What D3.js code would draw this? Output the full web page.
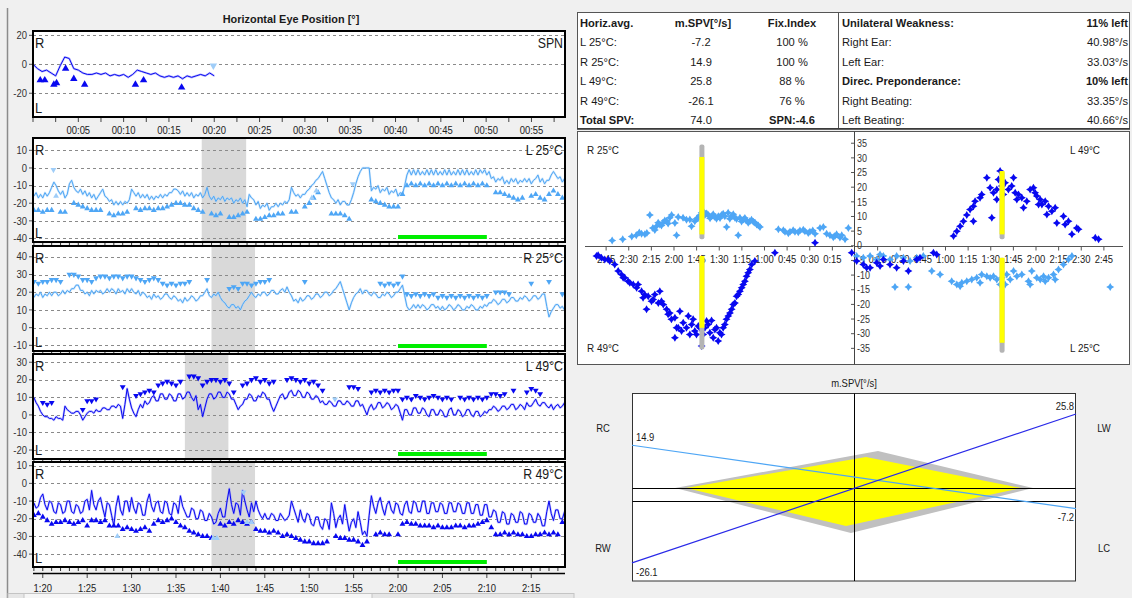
<!DOCTYPE html>
<html>
<head>
<meta charset="utf-8">
<script src="https://cdn.jsdelivr.net/npm/d3@7"></script>
<style>
  body { margin: 0; background: #f0f0f0; }
  svg { display: block; font-family: "Liberation Sans", Arial, sans-serif; }
</style>
</head>
<body>
<svg id="chart" width="1132" height="598"></svg>
<script>
// ---------------- Recorded data ----------------
// Spontaneous nystagmus (SPN) recording, 0.5 s samples from 0 s
const spnStart = 0, spnStep = 0.5;
const spnTrace = [0,-3,-5,-4,-6,-8,-1,5,4,-3,
  -4,-6,-7,-7,-6,-7,-6,-8,-7,-8,
  -7,-9,-7,-4,-5,-6,-7,-6,-8,-9,
  -8,-9,-8,-10,-8,-9,-8,-7,-8,-6,
  -8];
const spnBeats = [[0.8,-11],[1.3,-11],[2.3,-14],[2.6,-13],[3.6,-3],[4.5,-10],[5.7,-14],[11.3,-14],[12.2,-11],[16.4,-16]];
const spnFaint = [[19.9,-1,'down']];

// Caloric irrigations: eye position, 0.25 s samples from 1:19
const stimStart = 79, stimStep = 0.25;
const l25Trace = [
  -16,-14,-17,-15,-17,-14,-16,-14,-11,-8,
  -10,-13,-15,-13,-17,-15,-9,-7,-11,-13,
  -14,-12,-15,-13,-16,-14,-17,-15,-18,-16,
  -14,-12,-16,-17,-19,-18,-21,-19,-21,-19,
  -21,-19,-20,-18,-12,-14,-16,-14,-17,-15,
  -17,-15,-18,-16,-18,-16,-17,-15,-17,-15,
  -16,-14,-14,-12,-12,-13,-15,-13,-16,-14,
  -16,-14,-17,-15,-16,-14,-17,-15,-11,-16,
  -18,-16,-19,-17,-18,-16,-19,-17,-18,-17,
  -20,-18,-19,-17,-20,-18,-22,-15,-17,-18,
  -21,-19,-23,-21,-22,-20,-24,-22,-22,-20,
  -22,-20,-21,-19,-20,-18,-11,-14,-16,-15,
  -17,-15,-15,-13,-12,-10,-9,-7,-6,-4,
  -2,-6,-10,-14,-17,-18,-20,-18,-21,-19,
  -19,-21,-21,-18,-14,-9,-5,-2,0,0,
  0,0,-13,-11,-12,-10,-14,-12,-13,-11,
  -15,-13,-14,-12,-16,-14,-15,-10,-4,-1,
  -4,-1,-4,-1,-4,-2,-4,-1,-4,-1,
  -4,-1,-4,-2,-4,-1,-4,-1,-4,-2,
  -4,-1,-4,-1,-4,-1,-4,-2,-4,-1,
  -4,-1,-3,-1,-4,-2,-6,-5,-8,-6,
  -7,-5,-9,-7,-9,-6,-8,-6,-9,-7,
  -8,-6,-8,-6,-9,-7,-6,-4,-8,-6,
  -9,-7,-7,-4,-2,-4,-6,-5,-8,-6,
  -10];
const r25Trace = [
  17,19,18,20,17,19,18,20,18,20,
  20,18,19,21,19,21,20,22,22,24,
  24,21,21,19,20,18,21,19,21,20,
  21,19,20,22,20,22,21,19,22,20,
  21,19,22,20,22,20,19,21,18,20,
  19,17,18,16,19,17,18,16,17,19,
  19,17,16,18,17,15,16,14,17,15,
  16,18,17,15,16,18,18,20,22,18,
  17,19,18,20,17,15,14,12,11,13,
  13,11,12,10,13,15,16,18,20,18,
  17,19,18,20,20,18,19,21,21,19,
  19,21,22,20,23,20,18,15,16,14,
  17,15,16,18,18,16,17,19,19,17,
  18,20,20,18,19,21,22,24,26,22,
  18,14,10,14,17,19,20,22,19,21,
  21,19,18,20,19,17,17,19,18,20,
  19,17,18,20,20,22,24,18,12,10,
  11,13,11,13,11,13,12,10,11,13,
  13,11,12,10,12,10,11,13,12,10,
  11,13,12,10,10,12,11,13,12,10,
  10,12,11,13,12,14,14,16,15,13,
  14,16,16,14,15,17,17,15,15,17,
  16,18,17,15,16,18,18,16,17,19,
  19,12,6,9,11,13,13,11,12,10,
  11];
const l49Trace = [
  10,7,5,2,0,-1,-1,-2,-2,-3,
  -1,-2,-2,-3,5,3,2,1,1,2,
  2,0,-3,-1,1,2,2,1,3,2,
  2,4,4,3,3,5,5,4,6,5,
  -2,6,15,9,4,1,-1,3,6,4,
  8,6,7,10,11,8,8,12,12,9,
  9,12,11,8,8,12,12,9,10,13,
  13,10,8,11,3,6,-1,4,9,12,
  12,9,10,13,13,10,10,13,12,9,
  9,6,3,5,6,9,9,12,11,8,
  8,11,10,13,12,9,9,5,2,5,
  8,11,12,9,10,13,14,11,11,14,
  13,10,10,13,12,9,9,11,10,7,
  8,6,6,8,7,5,5,8,8,6,
  6,8,7,5,5,8,8,5,6,3,
  0,4,6,3,4,7,7,4,5,7,
  6,3,4,6,5,1,-3,3,3,0,
  0,4,4,1,1,4,3,0,-1,3,
  3,0,0,3,2,-1,-1,3,4,0,
  0,3,2,-1,0,3,3,0,-1,2,
  2,-1,0,2,1,3,3,5,4,2,
  3,5,5,3,4,6,6,3,4,6,
  5,3,7,5,5,7,9,6,5,7,
  7,5,4,6,3,5,6,4,5,7,
  6];
const r49Trace = [
  -11,-14,-13,-8,-6,-12,-15,-10,-11,-16,
  -17,-11,-12,-17,-16,-10,-10,-16,-17,-12,
  -13,-17,-16,-10,-9,-15,-4,-12,-15,-10,
  -8,-14,-19,-11,-12,-18,-24,-13,-7,-15,
  -18,-10,-10,-16,-8,-14,-17,-11,-12,-18,
  -18,-10,-6,-13,-16,-11,-10,-16,-17,-10,
  -11,-17,-18,-11,-12,-17,-7,-13,-16,-19,
  -19,-14,-15,-20,-20,-15,-16,-21,-21,-17,
  -19,-23,-22,-17,-14,-19,-19,-10,-3,-12,
  -17,-11,-12,-18,-4,-10,-15,-19,-11,-16,
  -10,-15,-18,-20,-17,-20,-20,-17,-18,-21,
  -21,-17,-19,-21,-20,-18,-10,-14,-18,-22,
  -15,-20,-22,-17,-18,-23,-24,-19,-19,-24,
  -26,-20,-21,-26,-11,-17,-25,-20,-18,-23,
  -12,-20,-27,-22,-20,-25,-16,-22,-29,-27,
  -30,-18,-7,-13,-17,-11,-8,-14,-18,-12,
  -10,-15,-17,-11,-12,-17,-18,-12,-10,-16,
  -17,-10,-11,-16,-16,-10,-10,-17,-17,-11,
  -11,-16,-16,-11,-12,-17,-17,-11,-11,-16,
  -16,-11,-12,-17,-17,-11,-11,-17,-17,-12,
  -12,-18,-18,-12,-12,-19,-19,-15,-16,-22,
  -22,-16,-17,-23,-23,-17,-18,-22,-22,-16,
  -17,-23,-23,-17,-18,-22,-22,-17,-19,-24,
  -24,-16,-10,-17,-21,-15,-15,-20,-20,-16,
  -17];

// Detected fast-phase beats, 0.5 s bins from 1:19 (null = none)
const beatStart = 79, beatStep = 0.5;
const l25Beats = [-24,-24,-25,-24,-24,null,-25,-25,null,-20,
  -21,-22,-23,-24,-24,-24,null,-26,-27,-26,
  -26,-25,null,-23,-24,-23,-23,-24,-23,-23,
  -22,-21,-20,-20,-21,-21,-23,-24,-25,null,
  -26,-27,-26,null,-28,-28,-27,-26,-25,null,
  -29,-29,-28,-27,-27,-26,-26,null,-25,-25,
  null,-22,-20,-17,-14,null,null,-26,-26,-26,
  -27,-29,null,null,null,null,-18,-19,-20,-21,
  -22,-22,-22,-15,-10,-9,-10,-9,-10,-9,
  -10,-9,-10,-9,-10,-9,-10,-9,-10,-9,
  -10,-9,-10,null,-14,-14,-15,-16,-17,-18,
  -17,null,-16,-15,-17,-18,-15,-13,-15,-17,
  -18];
const l25Faint = [[81.2,-1,'down'],[81.5,-16,'up'],[110.3,-17,'up'],[110.8,-13,'up'],[114.9,-9,'down']];
const r25Beats = [26,25,26,26,27,27,26,null,30,30,
  29,27,27,26,28,29,29,28,29,29,
  28,29,29,28,27,26,27,28,27,25,
  24,25,24,25,25,26,null,null,null,27,
  null,null,null,null,22,23,22,25,25,24,
  25,26,26,27,null,null,null,null,null,null,
  null,26,null,null,null,null,null,null,null,null,
  null,null,null,null,null,null,null,null,25,24,
  25,24,25,29,19,18,19,18,19,18,
  19,17,18,17,18,17,18,17,18,17,
  18,17,18,null,20,20,20,19,null,null,
  null,null,25,null,null,null,26,null,null,19,
  null];
const r25Faint = [];
const l49Beats = [null,null,7,6,7,null,null,null,null,null,
  null,3,8,8,9,null,null,null,null,null,
  16,null,null,11,12,13,14,13,17,18,
  19,18,17,19,null,22,22,21,17,19,
  20,20,19,20,18,13,null,17,18,20,
  21,19,20,18,19,null,null,20,21,20,
  19,20,18,19,17,14,null,null,null,null,
  null,16,16,15,null,null,13,14,13,14,
  13,14,14,9,10,9,11,10,9,10,
  11,10,9,10,9,null,10,9,10,9,
  10,9,10,12,12,11,12,null,14,null,
  null,13,15,14,12,null,null,null,null,null,
  null];
const l49Faint = [[112.9,9,'down']];
const r49Beats = [-18,-17,-19,-21,-23,-22,-22,-21,-22,-23,
  -22,-21,-24,-21,-21,-22,-21,-24,-24,-24,
  -26,-25,-26,-27,-26,-25,-27,-23,-21,-22,
  -21,-20,-22,-24,-25,-27,-28,-29,-30,-30,
  -31,null,-23,-24,-22,-23,-21,-22,-23,-22,
  -26,-27,-27,-28,-27,-28,-30,-29,-30,-31,
  -32,-33,-33,-34,-34,-34,-33,null,-30,-31,
  -31,-32,-32,-33,-35,-33,null,-29,-28,-29,
  -29,null,-29,-23,-22,-23,-23,-24,-24,-24,
  -25,-24,-25,-25,-25,-24,-24,-25,-24,-24,
  -23,-22,-21,-25,-29,-29,-28,-29,-28,-29,
  -29,-30,-30,-29,-29,-28,-29,-28,-29,-22,
  -27];
const r49Faint = [[88.4,-30,'up'],[99.2,-31,'up'],[99.6,-31,'up'],[103,-22,'up'],[103.5,-22,'up'],[102.6,-5,'down']];

// Fixation-suppression windows (gray) and evaluation window (green), seconds
const l25Band = [97.9, 102.9];
const r25Band = [99.0, 103.9];
const l49Band = [96.0, 100.9];
const r49Band = [99.0, 103.9];
const evalWindow = [120, 130];

// Summary table
const tableHeader = ['Horiz.avg.', 'm.SPV[°/s]', 'Fix.Index'];
const irrigations = ['L 25°C:', 'R 25°C:', 'L 49°C:', 'R 49°C:'];
const meanSpv = [-7.2, 14.9, 25.8, -26.1];
const fixIndex = [100, 100, 88, 76];
const totalSpv = 74.0;
const spnValue = -4.6;
const ratioLabels = ['Unilateral Weakness:', 'Right Ear:', 'Left Ear:', 'Direc. Preponderance:', 'Right Beating:', 'Left Beating:'];
const ratioValues = ['11% left', '40.98°/s', '33.03°/s', '10% left', '33.35°/s', '40.66°/s'];

// Butterfly plot: slow-phase velocity [t (s), v (°/s)]
const r25Spv = [[161,1.8],[154,2.2],[148,3.2],[145,3.6],[143,4.5],[141.5,4.1],[139.3,3.9],[138,4.4],[136,10.5],[134,6.1],[132.7,5.4],[131.6,6.7],[130.5,7.9],[129.4,7.3],[128.3,6.9],[127.4,7.8],[126.1,8.6],[124.9,8.4],[123.9,7.6],[122.8,9.6],[121.6,10.5],[119.4,7.8],[118.3,3.6],[117.2,9.8],[114,9.6],[111.7,8.9],[109.5,9.0],[108.4,6.7],[106.2,8.4],[105,9.2],[103.9,9.6],[102.8,10.4],[101.7,11.3],[100.6,11.8],[99.5,10.5],[98.3,11],[97.2,10.5],[96.1,9.4],[95.1,10.1],[94,10.8],[92.9,9.8],[91.8,9.2],[90.6,10.1],[89.5,9.5],[88.5,10.5],[87.4,10.9],[86.3,10.1],[85.1,6.4],[84.1,11.3],[83,9.2],[81.8,10.1],[80.7,10.8],[79.6,9.6],[78.5,9.1],[77.4,3.6],[76.3,9.6],[75.2,8.3],[74.0,9.0],[73,9.5],[71.9,8.6],[70.8,7.9],[69.7,8.4],[68.6,8.9],[67.4,8.2],[66.3,7.9],[65.2,7.3],[64.1,6.9],[63.0,6.4],[50.8,5.6],[47.5,5.3],[46.4,4.8],[44.2,4.3],[43.1,4.8],[41,5.3],[39.8,4.8],[37.6,4.6],[36.5,5.2],[34.3,5.5],[33.2,5.0],[31,4.4],[29.9,4.8],[28,5.2],[26.5,4.1],[23.2,6.1],[21.0,6.4],[18.8,4.1],[16.6,3.6],[14.4,2.9],[13.3,3.3],[12.2,3.9],[10,2.8],[8.8,3.6],[6.6,2.2],[4.4,6.1]];
const r49Spv = [[171.4,-3.5],[170.3,-3.2],[168.1,-4.1],[165.9,-4.7],[163.7,-4.7],[162.6,-5.2],[159.3,-6.4],[157.0,-8.6],[154.8,-9.8],[153.7,-10.9],[152.6,-10.9],[150.4,-12.1],[149.3,-12.6],[147.0,-13.2],[144.8,-14.3],[143.8,-13.2],[141.5,-15.5],[140.5,-17.7],[139.4,-16.6],[138.2,-21.7],[137.1,-17.2],[134.9,-18.9],[133.8,-18.3],[132.7,-16.6],[130.4,-19.5],[129.4,-15.5],[128.3,-18.9],[127.1,-20.0],[124.9,-21.7],[123.9,-23.4],[122.8,-22.9],[121.7,-25.1],[119.4,-24.6],[119.4,-31.4],[118.3,-28.0],[117.2,-28.0],[116.1,-22.3],[115.0,-29.1],[113.9,-26.3],[111.7,-28.0],[110.5,-24.0],[109.5,-30.3],[108.3,-26.9],[107.3,-25.1],[106.2,-29.1],[105.1,-30.3],[103.9,-27.4],[102.9,-28.0],[101.7,-34.2],[100.6,-30.3],[99.5,-28.0],[98.4,-25.7],[97.3,-26.9],[96.2,-29.7],[95.1,-25.5],[94.0,-31.4],[92.9,-28.6],[91.8,-28.0],[90.7,-32.5],[89.6,-29.7],[88.5,-30.3],[87.4,-28.0],[86.3,-26.9],[85.2,-25.1],[84.0,-24.0],[82.9,-22.9],[81.8,-21.7],[80.7,-20.0],[79.6,-19.5],[78.5,-17.2],[77.4,-16.6],[76.3,-15.5],[75.1,-14.3],[74.1,-13.2],[73.0,-12.1],[71.9,-10.4],[70.8,-9.2],[69.7,-8.1],[68.5,-6.4],[66.4,-5.2],[53.1,-2.4],[26.5,1.0],[2.2,-2.4]];
const l49Spv = [[1.1,-5.2],[5.5,-6.4],[7.7,-7.5],[10.0,-7.5],[14.4,-5.8],[16.6,-6.9],[18.8,-4.7],[23.2,-6.4],[27.6,-7.5],[32.1,-5.2],[35.4,-8.6],[40.9,-4.7],[43.1,-4.1],[52.0,-2.4],[54.2,-3.0],[65.3,3.3],[67.5,5.0],[69.7,6.7],[71.9,8.4],[74.1,10.5],[76.3,12.4],[78.5,13.5],[78.5,8.4],[79.6,15.2],[82.9,16.4],[84.0,17.5],[87.4,23.2],[89.6,19.8],[90.7,9.6],[91.8,18.1],[94.0,19.2],[94.0,15.8],[95.1,22.6],[96.2,25.5],[97.3,20.4],[98.4,17.5],[99.5,21.5],[101.7,19.2],[103.9,20.4],[105.1,23.2],[106.2,18.1],[107.3,15.8],[108.4,17.5],[110.6,16.4],[111.7,13.0],[113.9,15.2],[116.1,19.2],[118.3,19.8],[119.4,18.1],[120.5,17.0],[121.7,14.1],[122.8,15.8],[123.9,14.1],[126.1,15.2],[127.2,10.7],[128.3,13.5],[130.5,11.8],[132.7,13.0],[133.8,7.8],[138.2,10.1],[139.3,7.3],[141.5,8.4],[143.8,3.9],[147.0,6.1],[148.2,5.6],[159.3,2.7],[161.5,2.2]];
const l25Spv = [[1.1,-3.5],[5.5,-4.1],[10.0,-3.5],[14.4,-4.7],[16.6,-3.0],[18.8,-3.5],[23.2,-4.7],[26.5,-14.1],[27.6,-3.5],[32.1,-4.1],[35.4,-14.1],[36.5,-5.2],[40.9,-4.1],[45.3,-3.5],[50.9,-8.6],[56.4,-9.8],[64.1,-12.1],[67.5,-13.2],[69.7,-13.8],[70.8,-12.6],[74.1,-12.1],[77.4,-11.5],[80.7,-10.9],[82.9,-12.6],[84.0,-9.8],[87.4,-10.4],[89.6,-10.9],[91.8,-10.4],[94.0,-11.5],[96.2,-13.2],[97.3,-10.9],[99.5,-13.2],[100.6,-9.8],[102.9,-11.5],[105.1,-8.6],[107.3,-10.4],[110.6,-9.8],[115.0,-12.1],[116.1,-13.2],[117.2,-8.6],[120.5,-10.9],[122.8,-11.5],[125.0,-10.4],[126.1,-12.1],[128.3,-10.9],[131.6,-9.8],[132.7,-11.5],[134.9,-8.1],[138.2,-6.4],[141.5,-4.7],[143.8,-3.5],[169.2,-14.1]];

// Culmination markers: full extent (gray) and plateau (yellow), °/s
const rightEarPeakTime = 101.5;
const rightEarBars = [{gray: [2.2, 34.6], yellow: [3.9, 30.3]}, {gray: [-35.4, -3.5], yellow: [-28, -3.5]}];
const leftEarPeakTime = 97.5;
const leftEarBars = [{gray: [2.2, 25.5], yellow: [3.9, 25.5]}, {gray: [-36.5, -4.1], yellow: [-33.1, -4.1]}];

// Normal-range diamond for the m.SPV plot (x: -1 left .. 1 right, y: °/s)
const diamondShadow = [[-0.806,0],[0.108,12.9],[0.806,0],[-0.014,-15.7]];
const diamondNormal = [[-0.757,0],[0.054,10.8],[0.752,0],[-0.036,-13.2]];

// ---------------- Drawing ----------------
const svg = d3.select('#chart');
const LIGHT = '#4ea6f5', DARK = '#0808f0', FAINT = '#9fcdf8';
const SX = 0.9;

function label(parent, x, y, s, o = {}) {
  return parent.append('text')
    .attr('transform', `translate(${x},${y}) scale(${o.sx ?? SX},1)`)
    .attr('text-anchor', o.anchor || 'start')
    .attr('dominant-baseline', 'central')
    .style('font-size', (o.size || 10.5) + 'px')
    .style('font-weight', o.bold ? 'bold' : 'normal')
    .attr('fill', o.color || '#1a1a1a')
    .text(s);
}
const mss = t => `${Math.floor(t / 60)}:${String(Math.round(t % 60)).padStart(2, '0')}`;

// window frame on the left
svg.append('line').attr('x1', 7.5).attr('x2', 7.5).attr('y1', 8).attr('y2', 598)
  .attr('stroke', '#8c8c8c').attr('stroke-width', 1.5);
label(svg, 291, 19, 'Horizontal Eye Position [°]', {anchor: 'middle', bold: true, size: 11.5, sx: 0.95});

const triSym = d3.symbol().type(d3.symbolTriangle);
let clipId = 0;

function drawPanel(p) {
  const xs = p.x;
  const [x0, x1] = xs.range();
  const y = d3.scaleLinear().domain(p.domain).range([p.bottom, p.top]);
  const g = svg.append('g');
  const cid = 'clip' + (clipId++);
  g.append('clipPath').attr('id', cid).append('rect')
    .attr('x', x0).attr('y', p.top).attr('width', x1 - x0).attr('height', p.bottom - p.top);
  g.append('rect').attr('x', x0).attr('y', p.top).attr('width', x1 - x0).attr('height', p.bottom - p.top).attr('fill', '#fff');
  const inner = g.append('g').attr('clip-path', `url(#${cid})`);
  if (p.band) {
    inner.append('rect').attr('x', xs(p.band[0])).attr('y', p.top)
      .attr('width', xs(p.band[1]) - xs(p.band[0])).attr('height', p.bottom - p.top).attr('fill', '#d9d9d9');
  }
  p.ticks.forEach(v => {
    inner.append('line').attr('x1', x0).attr('x2', x1).attr('y1', Math.round(y(v)) + 0.5).attr('y2', Math.round(y(v)) + 0.5)
      .attr('stroke', '#8a8a8a').attr('stroke-dasharray', '3,3');
    g.append('line').attr('x1', x0 - 4).attr('x2', x0).attr('y1', y(v)).attr('y2', y(v)).attr('stroke', '#555');
    label(g, 27, y(v), String(v), {anchor: 'end', size: 10.5, color: '#333'});
  });
  if (p.evalWin) {
    inner.append('line').attr('x1', xs(p.evalWin[0])).attr('x2', xs(p.evalWin[1]))
      .attr('y1', p.bottom - 5).attr('y2', p.bottom - 5).attr('stroke', '#00ee00').attr('stroke-width', 4);
  }
  const pts = p.trace.map((v, i) => [p.start + i * p.step, v]);
  const path = d3.line().x(d => xs(d[0])).y(d => y(d[1]))(pts);
  inner.append('path').attr('d', path).attr('fill', 'none').attr('stroke', p.halo)
    .attr('stroke-width', 2.2).attr('stroke-linejoin', 'round').attr('opacity', 0.55);
  inner.append('path').attr('d', path).attr('fill', 'none').attr('stroke', p.color).attr('stroke-width', 1);
  const beatPts = p.beatPairs || p.beats.map((v, i) => [beatStart + i * beatStep, v]).filter(d => d[1] !== null);
  const sym = triSym.size(p.markSize || 15);
  inner.selectAll(null).data(beatPts).join('path')
    .attr('d', sym())
    .attr('transform', d => `translate(${xs(d[0])},${y(d[1])})${p.dir === 'down' ? ' rotate(180)' : ''}`)
    .attr('fill', p.color);
  inner.selectAll(null).data(p.faint || []).join('path')
    .attr('d', sym())
    .attr('transform', d => `translate(${xs(d[0])},${y(d[1])})${d[2] === 'down' ? ' rotate(180)' : ''}`)
    .attr('fill', FAINT);
  // border
  g.append('rect').attr('x', x0).attr('y', p.top).attr('width', x1 - x0).attr('height', p.bottom - p.top)
    .attr('fill', 'none').attr('stroke', '#000').attr('stroke-width', 2);
  // ruler ticks on lower edge
  if (p.ruler) {
    d3.range(79, 139, 1).forEach(t => {
      g.append('line').attr('x1', xs(t)).attr('x2', xs(t)).attr('y1', p.bottom + 1).attr('y2', p.bottom + 4)
        .attr('stroke', '#333');
    });
  }
  label(g, x0 + 2, p.top + 12, 'R', {size: 14, sx: 0.92});
  label(g, x0 + 2, p.bottom - 9, 'L', {size: 14, sx: 0.92});
  label(g, x1 - 2, p.top + 12, p.name, {anchor: 'end', size: 14, sx: 0.88});
  return y;
}

// Spontaneous nystagmus panel
const xSpn = d3.scaleLinear().domain([0, 58.7]).range([33, 565]);
drawPanel({name: 'SPN', x: xSpn, trace: spnTrace, start: spnStart, step: spnStep, beatPairs: spnBeats,
  faint: spnFaint, dir: 'up', color: DARK, halo: '#8a8aff', top: 31, bottom: 117, domain: [-36.4, 23], ticks: [20, 0, -20], markSize: 24});
d3.range(0, 58.7, 2.5).forEach(t => {
  svg.append('line').attr('x1', xSpn(t)).attr('x2', xSpn(t)).attr('y1', 118).attr('y2', 122).attr('stroke', '#444');
  if (t % 5 === 0 && t > 0) label(svg, xSpn(t), 130, `00:${String(t).padStart(2, '0')}`, {anchor: 'middle', color: '#222'});
});

// Caloric panels on a shared time axis
const xStim = d3.scaleLinear().domain([78.9, 138.8]).range([33, 565]);
const stimPanels = [
  {name: 'L 25°C', trace: l25Trace, beats: l25Beats, faint: l25Faint, dir: 'up', color: LIGHT, halo: '#a9d3fa', band: l25Band,
   top: 138, bottom: 242, domain: [-42, 17], ticks: [10, 0, -10, -20, -30, -40]},
  {name: 'R 25°C', trace: r25Trace, beats: r25Beats, faint: r25Faint, dir: 'down', color: LIGHT, halo: '#a9d3fa', band: r25Band,
   top: 246, bottom: 351, domain: [-13.2, 46.1], ticks: [40, 30, 20, 10, 0, -10]},
  {name: 'L 49°C', trace: l49Trace, beats: l49Beats, faint: l49Faint, dir: 'down', color: DARK, halo: '#8a8aff', band: l49Band,
   top: 354, bottom: 459, domain: [-25.1, 34.7], ticks: [30, 20, 10, 0, -10, -20]},
  {name: 'R 49°C', trace: r49Trace, beats: r49Beats, faint: r49Faint, dir: 'up', color: DARK, halo: '#8a8aff', band: r49Band,
   top: 462, bottom: 567, domain: [-47.3, 12.1], ticks: [10, 0, -10, -20, -30, -40]}
];
stimPanels.forEach(p => drawPanel(Object.assign({x: xStim, start: stimStart, step: stimStep, evalWin: evalWindow, ruler: true}, p)));

// bottom time axis
svg.append('line').attr('x1', 33).attr('x2', 565).attr('y1', 573.5).attr('y2', 573.5).attr('stroke', '#000').attr('stroke-width', 1.5);
d3.range(80, 138, 5).forEach(t => {
  svg.append('line').attr('x1', xStim(t)).attr('x2', xStim(t)).attr('y1', 574).attr('y2', 578).attr('stroke', '#444');
  label(svg, xStim(t), 588, mss(t), {anchor: 'middle', color: '#222'});
});
// scroll strip
svg.append('rect').attr('x', 8).attr('y', 593.5).attr('width', 566).attr('height', 6).attr('fill', '#e6e6e6').attr('stroke', '#c4c4c4');
svg.append('rect').attr('x', 24).attr('y', 593.5).attr('width', 348).attr('height', 6).attr('fill', '#f6f6f6').attr('stroke', '#c4c4c4');

// ---------------- Summary table ----------------
const tbl = svg.append('g');
const TF = {size: 11.5, sx: 0.97};
tbl.append('rect').attr('x', 577.5).attr('y', 12.5).attr('width', 552).attr('height', 116).attr('fill', '#fff').attr('stroke', '#555');
tbl.append('line').attr('x1', 838.5).attr('x2', 838.5).attr('y1', 12.5).attr('y2', 128.5).attr('stroke', '#555');
tbl.append('line').attr('x1', 577).attr('x2', 1130).attr('y1', 129).attr('y2', 129).attr('stroke', '#333').attr('stroke-width', 1.5);
const rowY = i => 23 + i * 19.4;
label(tbl, 580, rowY(0), tableHeader[0], {...TF, bold: true});
label(tbl, 703, rowY(0), tableHeader[1], {...TF, bold: true, anchor: 'middle'});
label(tbl, 792, rowY(0), tableHeader[2], {...TF, bold: true, anchor: 'middle'});
irrigations.forEach((r, i) => {
  label(tbl, 580, rowY(i + 1), r, TF);
  label(tbl, 701, rowY(i + 1), meanSpv[i].toFixed(1), {...TF, anchor: 'middle'});
  label(tbl, 792, rowY(i + 1), `${fixIndex[i]} %`, {...TF, anchor: 'middle'});
});
label(tbl, 580, rowY(5), 'Total SPV:', {...TF, bold: true});
label(tbl, 701, rowY(5), totalSpv.toFixed(1), {...TF, anchor: 'middle'});
label(tbl, 792, rowY(5), `SPN:${spnValue}`, {...TF, anchor: 'middle', bold: true});
ratioLabels.forEach((r, i) => {
  const b = i === 0 || i === 3;
  label(tbl, 842, rowY(i), r, {...TF, bold: b});
  label(tbl, 1128, rowY(i), ratioValues[i], {...TF, bold: b, anchor: 'end'});
});

// ---------------- Butterfly plot ----------------
const bf = svg.append('g');
bf.append('rect').attr('x', 577.5).attr('y', 131.5).attr('width', 552).attr('height', 233).attr('fill', '#fff').attr('stroke', '#555');
const bfL = d3.scaleLinear().domain([0, 179]).range([855, 585]);
const bfR = d3.scaleLinear().domain([0, 179]).range([855, 1125]);
const bfY = d3.scaleLinear().domain([-40, 39]).range([363, 131.5]);
const y0 = Math.round(bfY(0)) + 0.5;
bf.append('line').attr('x1', 854.5).attr('x2', 854.5).attr('y1', 131.5).attr('y2', 364.5).attr('stroke', '#444');
bf.append('line').attr('x1', 585).attr('x2', 853).attr('y1', y0).attr('y2', y0).attr('stroke', '#555');
bf.append('line').attr('x1', 855).attr('x2', 1123).attr('y1', y0).attr('y2', y0).attr('stroke', '#555');
d3.range(15, 170, 15).forEach(t => {
  bf.append('line').attr('x1', bfL(t)).attr('x2', bfL(t)).attr('y1', y0).attr('y2', y0 + 4).attr('stroke', '#555');
  bf.append('line').attr('x1', bfR(t)).attr('x2', bfR(t)).attr('y1', y0).attr('y2', y0 + 4).attr('stroke', '#555');
  label(bf, bfL(t), 259, mss(t), {anchor: 'middle', size: 10.5, color: '#222'});
  label(bf, bfR(t), 259, mss(t), {anchor: 'middle', size: 10.5, color: '#222'});
});
d3.range(-35, 36, 5).forEach(v => {
  bf.append('line').attr('x1', 851).attr('x2', 854).attr('y1', bfY(v)).attr('y2', bfY(v)).attr('stroke', '#555');
  label(bf, 857, bfY(v), String(v), {size: 10, color: '#333'});
});
label(bf, 587, 150, 'R 25°C', {size: 11});
label(bf, 587, 348, 'R 49°C', {size: 11});
label(bf, 1100, 150, 'L 49°C', {size: 11, anchor: 'end'});
label(bf, 1100, 348, 'L 25°C', {size: 11, anchor: 'end'});
const star = 'M0,-4L1.5,-1.5L4,0L1.5,1.5L0,4L-1.5,1.5L-4,0L-1.5,-1.5Z';
function scatter(data, xs, color) {
  bf.selectAll(null).data(data).join('path').attr('d', star)
    .attr('transform', d => `translate(${xs(d[0])},${bfY(d[1])})`).attr('fill', color);
}
scatter(r25Spv, bfL, LIGHT);
scatter(r49Spv, bfL, DARK);
scatter(l25Spv, bfR, LIGHT);
scatter(l49Spv, bfR, DARK);
function peakBars(t, xs, bars) {
  bars.forEach(b => {
    bf.append('rect').attr('x', xs(t) - 2.5).attr('width', 5)
      .attr('y', bfY(b.gray[1])).attr('height', bfY(b.gray[0]) - bfY(b.gray[1])).attr('rx', 2).attr('fill', '#b4b4b4');
    bf.append('rect').attr('x', xs(t) - 2.5).attr('width', 5)
      .attr('y', bfY(b.yellow[1])).attr('height', bfY(b.yellow[0]) - bfY(b.yellow[1])).attr('fill', '#ffff00');
  });
}
peakBars(rightEarPeakTime, bfL, rightEarBars);
peakBars(leftEarPeakTime, bfR, leftEarBars);

// ---------------- m.SPV diagram ----------------
const dm = svg.append('g');
const dmX = d3.scaleLinear().domain([-1, 1]).range([632, 1076]);
const dmY = d3.scaleLinear().domain([-32.4, 33.1]).range([581, 393]);
label(dm, 854, 383, 'm.SPV[°/s]', {anchor: 'middle'});
dm.append('rect').attr('x', 632.5).attr('y', 393.5).attr('width', 443).attr('height', 187.5).attr('fill', '#fff').attr('stroke', '#333');
const poly = d3.line().x(d => dmX(d[0])).y(d => dmY(d[1])).curve(d3.curveLinearClosed);
dm.append('path').attr('d', poly(diamondShadow)).attr('fill', '#c0c0c0');
dm.append('path').attr('d', poly(diamondNormal)).attr('fill', '#ffff00');
dm.append('line').attr('x1', 854.5).attr('x2', 854.5).attr('y1', 393.5).attr('y2', 581).attr('stroke', '#000');
[0, spnValue].forEach(v => {
  dm.append('line').attr('x1', 632.5).attr('x2', 1075.5).attr('y1', Math.round(dmY(v)) + 0.5).attr('y2', Math.round(dmY(v)) + 0.5)
    .attr('stroke', '#000');
});
// RC -> LC (25°C) and RW -> LW (49°C)
dm.append('line').attr('x1', dmX(-1)).attr('y1', dmY(meanSpv[1])).attr('x2', dmX(1)).attr('y2', dmY(meanSpv[0]))
  .attr('stroke', LIGHT).attr('stroke-width', 1.2);
dm.append('line').attr('x1', dmX(-1)).attr('y1', dmY(meanSpv[3])).attr('x2', dmX(1)).attr('y2', dmY(meanSpv[2]))
  .attr('stroke', '#2a2ae8').attr('stroke-width', 1.2);
label(dm, 636, dmY(meanSpv[1]) - 8, meanSpv[1].toFixed(1));
label(dm, 636, dmY(meanSpv[3]) + 9, meanSpv[3].toFixed(1));
label(dm, 1074, dmY(meanSpv[2]) - 8, meanSpv[2].toFixed(1), {anchor: 'end'});
label(dm, 1074, dmY(meanSpv[0]) + 9, meanSpv[0].toFixed(1), {anchor: 'end'});
label(dm, 603, 428, 'RC', {anchor: 'middle'});
label(dm, 603, 548, 'RW', {anchor: 'middle'});
label(dm, 1104, 428, 'LW', {anchor: 'middle'});
label(dm, 1104, 548, 'LC', {anchor: 'middle'});
</script>
</body>
</html>
